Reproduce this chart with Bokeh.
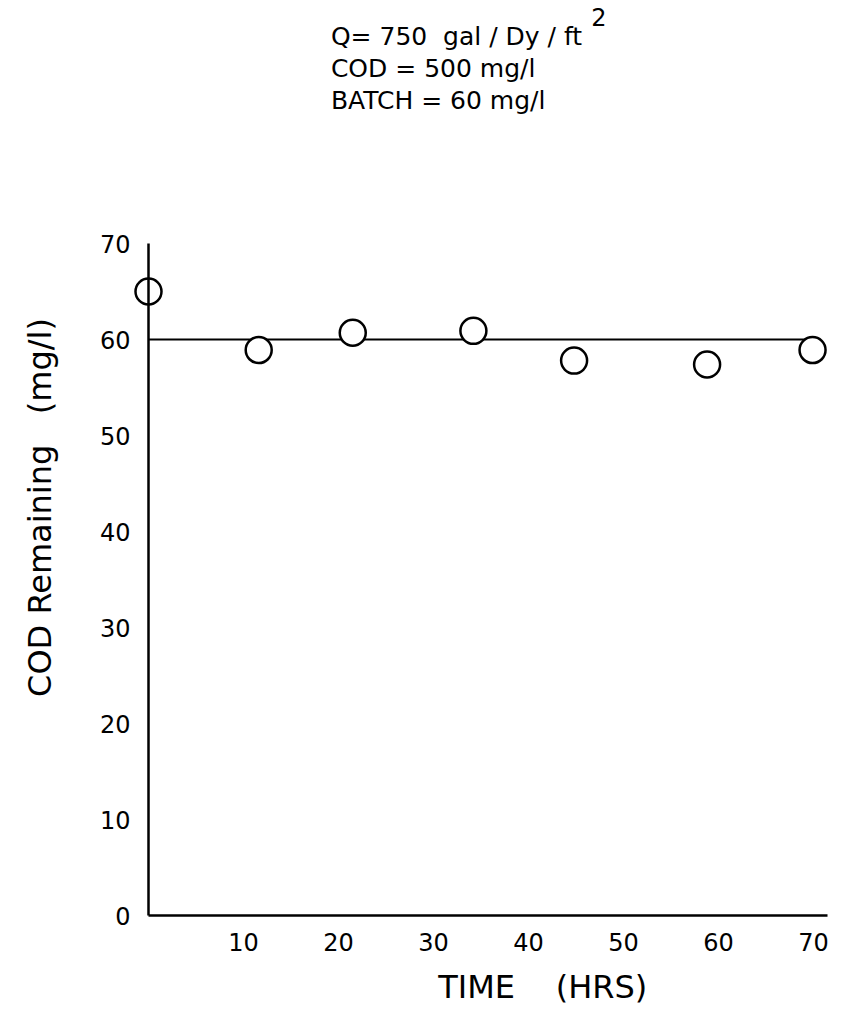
from bokeh.plotting import figure
from bokeh.models import Range1d, FixedTicker, Label, ColumnDataSource
from bokeh.embed import file_html
from bokeh.resources import INLINE

NB = "\u00a0"

# Data
time_hrs = [0, 11.6, 21.5, 34.2, 44.8, 58.8, 69.9]
cod_remaining = [65.0, 58.9, 60.7, 60.9, 57.8, 57.4, 58.9]
ref_time = [0, 70]
ref_cod = [60, 60]
x_ticks = [10, 20, 30, 40, 50, 60, 70]
y_ticks = [0, 10, 20, 30, 40, 50, 60, 70]
notes = ["Q= 750  gal / Dy / ft", "COD = 500 mg/l", "BATCH = 60 mg/l"]
x_title = "TIME    (HRS)"
y_title = "COD Remaining   (mg/l)"

FONT = "DejaVu Sans"
W, H = 853, 1017
PX_X, PX_Y = 9.5, 9.6      # pixels per data unit
X0_PX, Y0_PX = 148, 915    # pixel position of the origin

p = figure(width=W, height=H, output_backend="svg", toolbar_location=None,
           x_range=Range1d(-X0_PX / PX_X, (W - X0_PX) / PX_X),
           y_range=Range1d(-(H - Y0_PX) / PX_Y, Y0_PX / PX_Y),
           min_border=0)
p.outline_line_color = None
p.grid.visible = False
p.background_fill_color = "white"
p.border_fill_color = "white"

for ax in (p.xaxis[0], p.yaxis[0]):
    ax.fixed_location = 0
    ax.axis_line_width = 2.5
    ax.axis_line_color = "black"
    ax.major_tick_line_color = None
    ax.minor_tick_line_color = None
    ax.major_label_text_font = FONT
    ax.major_label_text_font_size = "24px"
    ax.major_label_text_color = "black"

p.xaxis[0].ticker = FixedTicker(ticks=x_ticks)
p.yaxis[0].ticker = FixedTicker(ticks=y_ticks)
p.xaxis[0].bounds = (0, 71.5)
p.yaxis[0].bounds = (0, 70)
p.xaxis[0].major_label_standoff = 11
p.yaxis[0].major_label_standoff = 12

src = ColumnDataSource(dict(t=time_hrs, c=cod_remaining))
p.line(ref_time, ref_cod, line_color="black", line_width=2)
p.scatter("t", "c", source=src, size=26, marker="circle", fill_color="white",
          line_color="black", line_width=2.5)

# axis titles
p.add_layout(Label(x=-11.4, y=42.5, text=y_title.replace(" ", NB), angle=1.5708,
                   text_align="center", text_baseline="middle",
                   text_font=FONT, text_font_size="32px", text_color="black"))
p.add_layout(Label(x=41.5, y=-7.4, text=x_title.replace(" ", NB),
                   text_align="center", text_baseline="middle",
                   text_font=FONT, text_font_size="32px", text_color="black"))

# notes
note_y = [91.6, 88.2, 84.9]
for txt, yy in zip(notes, note_y):
    p.add_layout(Label(x=19.2, y=yy, text=txt.replace(" ", NB), text_align="left",
                       text_baseline="middle",
                       text_font=FONT, text_font_size="25px", text_color="black"))
p.add_layout(Label(x=46.6, y=93.6, text="2", text_align="left", text_baseline="middle",
                   text_font=FONT, text_font_size="24px", text_color="black"))

open("out.html", "w").write(file_html(p, INLINE))
